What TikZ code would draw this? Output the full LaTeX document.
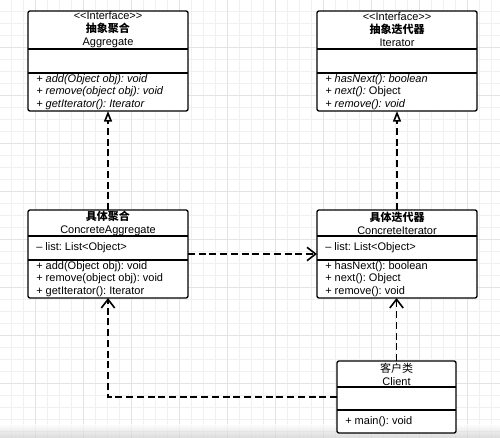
\documentclass[tikz,border=0pt]{standalone}
\usepackage{fontspec}
\setmainfont{Liberation Sans}
\newfontfamily\cjk{Noto Sans CJK SC}
\usetikzlibrary{arrows.meta}
\frenchspacing

\tikzset{
  classbox/.style={draw, line width=1pt, rounded corners=1.5pt, fill=white, inner sep=0pt, outer sep=0pt, minimum width=120pt},
  sepline/.style={line width=1pt},
  classtitle/.style={align=center, inner sep=0pt, font=\fontsize{8.25}{9.75}\selectfont},
  member/.style={anchor=west, align=left, inner sep=0pt, font=\fontsize{8.25}{9.4}\selectfont},
  memberit/.style={member, font=\fontsize{8.25}{9.4}\selectfont\itshape},
  realize/.style={line width=1.2pt, dash pattern=on 5.25pt off 2.8pt, -{Triangle[open, length=8pt, width=6pt, fill=white]}},
  depend/.style={line width=1.2pt, dash pattern=on 5.25pt off 2.8pt, -{Straight Barb[length=6.5pt, width=10pt]}},
  minorgrid/.style={draw=black!6, line width=0.4pt},
  majorgrid/.style={draw=black!11, line width=0.5pt}
}

\begin{document}
\begin{tikzpicture}[x=0.75pt, y=-0.75pt]
        \useasboundingbox (0,0) rectangle (500,438);
        \fill[white] (0,0) rectangle (500,438);
        \foreach \x in {11,23,...,491} \draw[minorgrid] (\x,0) -- (\x,438);
        \foreach \y in {11,23,...,431} \draw[minorgrid] (0,\y) -- (500,\y);
        \foreach \x in {35,83,...,467} \draw[majorgrid] (\x,0) -- (\x,438);
        \foreach \y in {47,95,...,431} \draw[majorgrid] (0,\y) -- (500,\y);
        \shade[top color=white, bottom color=black!20, opacity=0.7] (0,424) rectangle (500,438);

        \node[classbox, minimum height=75pt] (agg) at (108,61) {};
        \draw[sepline] (agg.north west) ++(0,38) -- ++(160,0);
        \draw[sepline] (agg.north west) ++(0,62) -- ++(160,0);
        \node[classtitle] (agg-name) at (108,30) {<{}<Interface>{}>\\{\cjk\bfseries 抽象聚合}\\Aggregate};
        \node[memberit] (agg-ops) at (36,92) {+ add(Object obj): void\\+ remove(object obj): void\\+ getIterator(): Iterator};

        \node[classbox, minimum height=75pt] (itr) at (397,61) {};
        \draw[sepline] (itr.north west) ++(0,38) -- ++(160,0);
        \draw[sepline] (itr.north west) ++(0,62) -- ++(160,0);
        \node[classtitle] (itr-name) at (397,30) {<{}<Interface>{}>\\{\cjk\bfseries 抽象迭代器}\\Iterator};
        \node[member] (itr-ops) at (325,92) {\textit{+ hasNext(): boolean}\\\textit{+ next():} Object\\\textit{+ remove(): void}};

        \node[classbox, minimum height=66pt] (cagg) at (108,254) {};
        \draw[sepline] (cagg.north west) ++(0,26) -- ++(160,0);
        \draw[sepline] (cagg.north west) ++(0,50) -- ++(160,0);
        \node[classtitle] (cagg-name) at (108,223) {{\cjk\bfseries 具体聚合}\\ConcreteAggregate};
        \node[member] (cagg-attr) at (36,248) {– list: List<Object>};
        \node[member] (cagg-ops) at (36,279) {+ add(Object obj): void\\+ remove(object obj): void\\+ getIterator(): Iterator};

        \node[classbox, minimum height=66pt] (citr) at (397,254) {};
        \draw[sepline] (citr.north west) ++(0,26) -- ++(160,0);
        \draw[sepline] (citr.north west) ++(0,50) -- ++(160,0);
        \node[classtitle] (citr-name) at (397,223) {{\cjk\bfseries 具体迭代器}\\ConcreteIterator};
        \node[member] (citr-attr) at (325,248) {– list: List<Object>};
        \node[member] (citr-ops) at (325,279) {+ hasNext(): boolean\\+ next(): Object\\+ remove(): void};

        \node[classbox, minimum width=89.25pt, minimum height=54pt] (client) at (396.5,397) {};
        \draw[sepline] (client.north west) ++(0,26) -- ++(119,0);
        \draw[sepline] (client.north west) ++(0,49) -- ++(119,0);
        \node[classtitle] (client-name) at (396.5,374) {{\cjk 客户类}\\Client};
        \node[member] (client-ops) at (345,421.5) {+ main(): void};

        \draw[realize] (cagg.north) -- (agg.south);
        \draw[realize] (citr.north) -- (itr.south);
        \draw[depend] (cagg.east) -- (citr.west);
        \draw[depend] (client.north) -- (client.north |- citr.south);
        \draw[depend] (client.west) -| (cagg.south);
\end{tikzpicture}
\end{document}
